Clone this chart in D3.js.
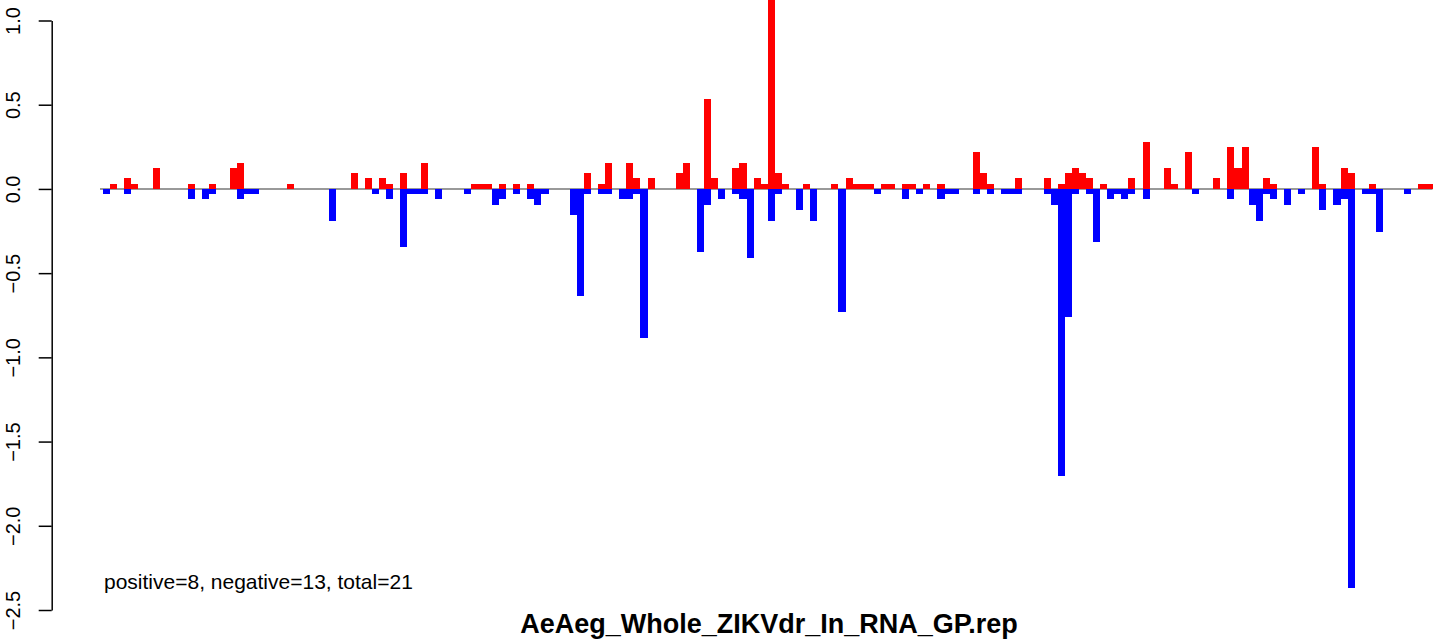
<!DOCTYPE html>
<html>
<head>
<meta charset="utf-8">
<script src="https://cdn.jsdelivr.net/npm/d3@7"></script>
<style>
  body { margin: 0; background: #fff; }
  svg { display: block; font-family: "Liberation Sans", Arial, Helvetica, sans-serif; }
</style>
</head>
<body>
<div id="grafBarras"></div>
<script>
// posiciones 0..187, barras pegadas (space = 0)
const nBarras = 188

// barras positivas (rojo): indice y valor
const rojoIdx = [1, 3, 4, 7, 12, 15, 18, 19, 26, 35, 37, 39, 40, 42, 45, 52, 53, 54, 56, 58,
  60, 68, 70, 71, 74, 75, 77, 81, 82, 85, 86, 89, 90, 92, 93, 94, 95, 96, 99, 103,
  105, 106, 107, 108, 110, 111, 113, 114, 116, 118, 123, 124, 125, 129, 133, 135, 136, 137, 138, 139,
  141, 145, 147, 150, 151, 153, 157, 159, 160, 161, 164, 165, 171, 172, 175, 176, 179, 186, 187]
const rojoVal = [0.031, 0.062, 0.031, 0.125, 0.031, 0.031, 0.125, 0.156, 0.031, 0.094, 0.062, 0.062, 0.031, 0.094, 0.156, 0.031, 0.031, 0.031, 0.031, 0.031,
  0.031, 0.094, 0.031, 0.156, 0.156, 0.062, 0.062, 0.094, 0.156, 0.531, 0.062, 0.125, 0.156, 0.062, 0.031, 1.3, 0.094, 0.031, 0.031, 0.031,
  0.062, 0.031, 0.031, 0.031, 0.031, 0.031, 0.031, 0.031, 0.031, 0.031, 0.219, 0.094, 0.031, 0.062, 0.062, 0.031, 0.094, 0.125, 0.094, 0.062,
  0.031, 0.062, 0.281, 0.125, 0.031, 0.219, 0.062, 0.25, 0.125, 0.25, 0.062, 0.031, 0.25, 0.031, 0.125, 0.094, 0.031, 0.031, 0.031]

// barras negativas (azul)
const azulIdx = [0, 3, 12, 14, 15, 19, 20, 21, 32, 38, 40, 42, 43, 44, 45, 47, 51, 55, 56, 58,
  60, 61, 62, 66, 67, 68, 70, 71, 73, 74, 75, 76, 84, 85, 87, 89, 90, 91, 94, 95,
  98, 100, 104, 109, 113, 115, 118, 119, 120, 123, 125, 127, 128, 129, 133, 134, 135, 136, 137, 139,
  140, 142, 143, 144, 145, 147, 154, 159, 162, 163, 164, 165, 167, 169, 172, 174, 175, 176, 178, 179,
  180, 184]
const azulVal = [-0.031, -0.031, -0.062, -0.062, -0.031, -0.062, -0.031, -0.031, -0.188, -0.031, -0.062, -0.344, -0.031, -0.031, -0.031, -0.062, -0.031, -0.094, -0.062, -0.031,
  -0.062, -0.094, -0.031, -0.156, -0.633, -0.031, -0.031, -0.031, -0.062, -0.062, -0.031, -0.888, -0.375, -0.094, -0.062, -0.031, -0.062, -0.41, -0.188, -0.031,
  -0.125, -0.188, -0.728, -0.031, -0.062, -0.031, -0.062, -0.031, -0.031, -0.031, -0.031, -0.031, -0.031, -0.031, -0.031, -0.094, -1.707, -0.758, -0.031, -0.031,
  -0.315, -0.062, -0.031, -0.062, -0.031, -0.062, -0.031, -0.062, -0.094, -0.188, -0.031, -0.062, -0.094, -0.031, -0.125, -0.094, -0.062, -2.372, -0.031, -0.031,
  -0.253, -0.031]

const yTicks = [-2.5, -2.0, -1.5, -1.0, -0.5, 0.0, 0.5, 1.0]
const titulo = "AeAeg_Whole_ZIKVdr_In_RNA_GP.rep"
const nota = "positive=8, negative=13, total=21"

const ancho = 1449
const alto = 640

const svg = d3.select("#grafBarras")
  .append("svg")
  .attr("width", ancho)
  .attr("height", alto)

const x = d3.scaleBand()
  .domain(d3.range(nBarras))
  .range([103, 1432.5])
  .paddingInner(0)
  .paddingOuter(0)

const y = d3.scaleLinear().domain([-2.5, 1.0]).range([610, 20.5])

const rojos = rojoIdx.map((d, i) => ({ idx: d, val: rojoVal[i] }))
const azules = azulIdx.map((d, i) => ({ idx: d, val: azulVal[i] }))

// linea del cero
svg.append("line")
  .attr("x1", x(0) - 3)
  .attr("x2", x(nBarras - 1) + x.bandwidth())
  .attr("y1", y(0))
  .attr("y2", y(0))
  .attr("stroke", "#777")
  .attr("stroke-width", 1.5)

const dibujarBarras = (datos, color) => {
  svg.append("g")
    .selectAll("rect")
    .data(datos)
    .enter()
    .append("rect")
    .attr("x", (d) => x(d.idx))
    .attr("width", x.bandwidth())
    .attr("y", (d) => y(Math.max(0, d.val)))
    .attr("height", (d) => Math.abs(y(d.val) - y(0)))
    .attr("fill", color)
    .attr("shape-rendering", "crispEdges")
}

dibujarBarras(rojos, "#ff0000")
dibujarBarras(azules, "#0000ff")

// eje y
const ejeY = svg.append("g")
  .attr("transform", "translate(51.7, 0)")
  .call(d3.axisLeft(y).tickValues(yTicks).tickFormat(d3.format(".1f")).tickSize(13).tickSizeOuter(0))

ejeY.select(".domain").attr("stroke", "#000").attr("stroke-width", 1.5)
ejeY.selectAll(".tick line").attr("stroke", "#000").attr("stroke-width", 1.5)
ejeY.selectAll(".tick text")
  .attr("x", null)
  .attr("dy", null)
  .attr("transform", "translate(-32, 0) rotate(-90)")
  .attr("text-anchor", "middle")
  .attr("fill", "#000")
  .style("font-size", "20px")
  .style("font-family", "'Liberation Sans', Arial, sans-serif")

svg.append("text")
  .attr("x", 104)
  .attr("y", 589)
  .attr("font-size", 21)
  .attr("fill", "#000")
  .text(nota)

// titulo abajo (subido un poco para que no se corten g y p)
svg.append("text")
  .attr("x", 769)
  .attr("y", 633)
  .attr("text-anchor", "middle")
  .attr("font-size", 27)
  .attr("font-weight", "bold")
  .attr("fill", "#000")
  .text(titulo)
</script>
</body>
</html>
